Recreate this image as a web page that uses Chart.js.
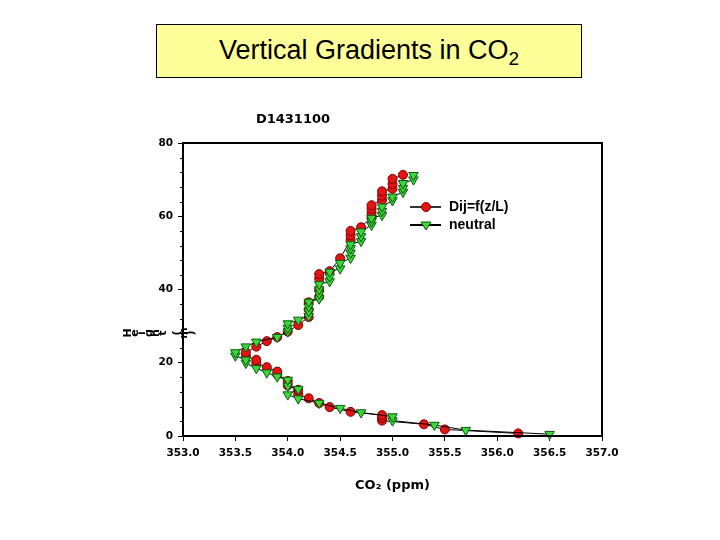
<!DOCTYPE html>
<html lang="en">
<head>
<meta charset="UTF-8">
<title>Vertical Gradients in CO2</title>
<script src="https://cdn.jsdelivr.net/npm/chart.js"></script>
<style>
  body { margin: 0; background: #fff; width: 720px; height: 540px; position: relative; overflow: hidden; }
  .title-box { position: absolute; left: 156px; top: 24px; width: 424px; height: 52px; background: #ffff99; border: 1px solid #000;
    font-family: "Liberation Sans", Arial, sans-serif; font-size: 27px; text-align: center; line-height: 50px; }
  .title-box sub { font-size: 19px; vertical-align: -6px; line-height: 0; }
  .wrap { position: absolute; left: 0; top: 0; width: 720px; height: 540px; }
</style>
</head>
<body>
<div class="title-box">Vertical Gradients in CO<sub>2</sub></div>
<div class="wrap"><canvas id="co2Chart"></canvas></div>

<script>
// CO2 (ppm) vs height (m), run D1431100
const dijCO2 = [356.2, 355.5, 355.3, 354.9, 354.9, 354.9, 354.6, 354.4, 354.3, 354.2, 354.1, 354.1, 354.0, 354.0,
  353.9, 353.9, 353.8, 353.7, 353.7, 353.6, 353.6, 353.7, 353.8, 353.9, 354.0, 354.1, 354.2, 354.2, 354.2,
  354.3, 354.3, 354.3, 354.3, 354.4, 354.5, 354.6, 354.6, 354.6, 354.7, 354.8, 354.8, 354.8, 354.8,
  354.9, 354.9, 354.9, 355.0, 355.0, 355.0, 355.1];
const dijZ = [0.7, 1.8, 3.2, 4.2, 5.0, 5.7, 6.6, 7.9, 9.0, 10.3, 11.4, 12.6, 13.8, 15.0,
  16.8, 17.6, 18.8, 19.8, 20.8, 21.8, 22.8, 24.4, 25.9, 27.0, 28.5, 30.3, 32.5, 34.5, 36.5,
  38.0, 40.0, 43.0, 44.2, 45.0, 48.5, 53.5, 54.8, 56.0, 57.0, 59.8, 60.9, 62.0, 63.0,
  64.4, 65.6, 66.8, 67.5, 68.8, 70.2, 71.3];

const neutralCO2 = [356.5, 355.7, 355.4, 355.0, 355.0, 354.7, 354.5, 354.3, 354.1, 354.0, 354.1, 354.0, 354.0,
  353.9, 353.8, 353.7, 353.6, 353.6, 353.5, 353.5, 353.6, 353.7, 353.9, 354.0, 354.0, 354.0, 354.1,
  354.2, 354.2, 354.2, 354.2, 354.3, 354.3, 354.3, 354.3, 354.4, 354.4, 354.4, 354.5, 354.5,
  354.6, 354.6, 354.6, 354.6, 354.7, 354.7, 354.7, 354.8, 354.8, 354.8, 354.9, 354.9, 354.9,
  355.0, 355.0, 355.1, 355.1, 355.1, 355.2, 355.2];
const neutralZ = [0.5, 1.6, 3.0, 4.2, 5.3, 6.4, 7.6, 9.0, 10.2, 11.3, 12.8, 13.7, 15.3,
  16.2, 17.3, 18.5, 19.9, 20.8, 21.9, 22.8, 24.4, 25.7, 27.0, 28.5, 29.5, 30.7, 31.7,
  32.7, 34.0, 35.3, 36.6, 37.5, 38.8, 40.0, 41.4, 42.2, 43.5, 44.8, 45.7, 47.2,
  48.6, 50.0, 51.2, 52.3, 53.2, 54.5, 55.8, 57.6, 58.6, 59.5, 60.3, 61.4, 62.6,
  64.3, 65.3, 66.6, 67.7, 69.0, 70.0, 71.2];

const seriesNames = ["Dij=f(z/L)", "neutral"];
const runName = "D1431100";
const xTitle = "CO\u2082 (ppm)";
const yTitle = "Height (m)";

const tickFont = { family: "DejaVu Sans", weight: "bold", size: 10.5 };

const toPoints = (xs, ys) => xs.map((x, i) => ({ x: x, y: ys[i] }));

const redStyle = { fill: "#e41414", edge: "#7a0000" };
const greenStyle = { fill: "#3ad83a", edge: "#0c5a0c" };

// extra drawing: frame, minor ticks, run name, y title, legend
const decor = {
  id: "decor",
  afterDraw(chart) {
    const ctx = chart.ctx;
    const a = chart.chartArea;
    const ys = chart.scales.y;
    ctx.save();
    ctx.strokeStyle = "#000";
    ctx.lineWidth = 2;
    ctx.strokeRect(a.left, a.top, a.right - a.left, a.bottom - a.top);

    ctx.lineWidth = 1;
    for (let v = 4; v < 80; v += 4) {
      if (v % 20 === 0) continue;
      const py = Math.round(ys.getPixelForValue(v)) + 0.5;
      ctx.beginPath();
      ctx.moveTo(a.left - 3, py);
      ctx.lineTo(a.left, py);
      ctx.stroke();
    }

    ctx.fillStyle = "#000";
    ctx.font = "bold 13px 'DejaVu Sans'";
    ctx.textAlign = "center";
    ctx.textBaseline = "middle";
    ctx.fillText(runName, 293, 120);

    // y title, glyphs turned on their side
    ctx.font = "bold 11px 'DejaVu Sans'";
    let gx = 128;
    for (const ch of yTitle) {
      ctx.save();
      ctx.translate(gx, 333);
      ctx.rotate(-Math.PI / 2);
      ctx.fillText(ch, 0, 0);
      ctx.restore();
      gx += 7;
    }

    // legend
    const rows = [
      { y: 207, st: redStyle, shape: "circle", line: "#333" },
      { y: 225, st: greenStyle, shape: "triangle", line: "#000" }
    ];
    rows.forEach((r, i) => {
      ctx.strokeStyle = r.line;
      ctx.lineWidth = 2;
      ctx.beginPath();
      ctx.moveTo(410, r.y);
      ctx.lineTo(441, r.y);
      ctx.stroke();
      ctx.fillStyle = r.st.fill;
      ctx.strokeStyle = r.st.edge;
      ctx.lineWidth = 1;
      ctx.beginPath();
      if (r.shape === "circle") {
        ctx.arc(426, r.y, 4.5, 0, Math.PI * 2);
      } else {
        ctx.moveTo(421, r.y - 3);
        ctx.lineTo(431, r.y - 3);
        ctx.lineTo(426, r.y + 5);
        ctx.closePath();
      }
      ctx.fill();
      ctx.stroke();
      ctx.fillStyle = "#000";
      ctx.font = "bold 14px 'Liberation Sans'";
      ctx.textAlign = "left";
      ctx.fillText(seriesNames[i], 449, r.y);
    });
    ctx.restore();
  }
};

new Chart(document.getElementById("co2Chart"), {
  type: "scatter",
  data: {
    datasets: [
      {
        label: seriesNames[0],
        data: toPoints(dijCO2, dijZ),
        showLine: true,
        borderColor: "#000",
        borderWidth: 1,
        pointStyle: "circle",
        pointRadius: 4.5,
        pointBackgroundColor: redStyle.fill,
        pointBorderColor: redStyle.edge,
        pointBorderWidth: 1,
        order: 2,
        clip: false
      },
      {
        label: seriesNames[1],
        data: toPoints(neutralCO2, neutralZ),
        showLine: true,
        borderColor: "#000",
        borderWidth: 1,
        pointStyle: "triangle",
        rotation: 180,
        pointRadius: 5.5,
        pointBackgroundColor: greenStyle.fill,
        pointBorderColor: greenStyle.edge,
        pointBorderWidth: 1,
        order: 1,
        clip: false
      }
    ]
  },
  options: {
    responsive: true,
    maintainAspectRatio: false,
    animation: false,
    devicePixelRatio: 1,
    layout: { padding: { left: 0, top: 143, right: 118, bottom: 0 } },
    plugins: { legend: { display: false }, tooltip: { enabled: false } },
    scales: {
      x: {
        type: "linear",
        min: 353, max: 357,
        afterFit: (s) => { s.height = 104; },
        ticks: { stepSize: 0.5, color: "#000", font: tickFont, padding: 6, maxRotation: 0,
          callback: (v) => v.toFixed(1) },
        grid: { drawOnChartArea: false, color: "#000", tickLength: 5 },
        border: { color: "#000", width: 2 },
        title: { display: true, text: xTitle, color: "#000",
          font: { family: "DejaVu Sans", weight: "bold", size: 13 }, padding: { top: 0, bottom: 47 } }
      },
      y: {
        type: "linear",
        min: 0, max: 80,
        afterFit: (s) => { s.width = 183; },
        ticks: { stepSize: 20, color: "#000", font: tickFont, padding: 5 },
        grid: { drawOnChartArea: false, color: "#000", tickLength: 5 },
        border: { color: "#000", width: 2 }
      }
    }
  },
  plugins: [decor]
});
</script>
</body>
</html>
